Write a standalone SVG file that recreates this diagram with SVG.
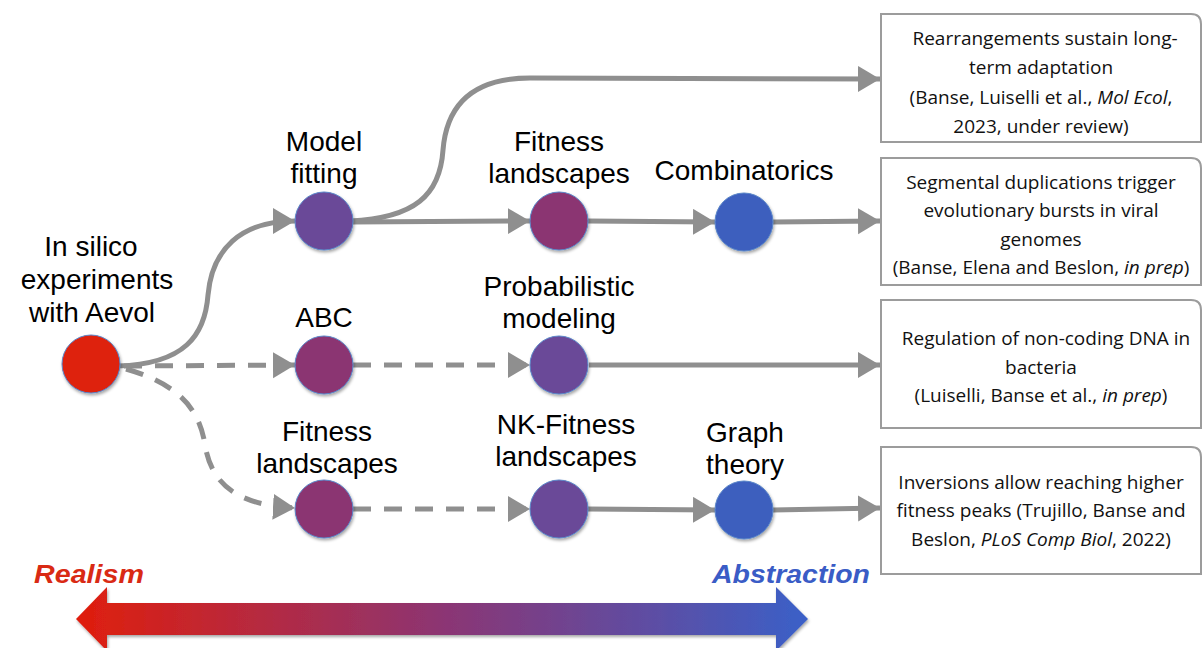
<svg xmlns="http://www.w3.org/2000/svg" width="1203" height="648" viewBox="0 0 1203 648">
<style>
.lbl{font-family:"Liberation Sans",Arial,sans-serif;font-size:28px;fill:#000;text-anchor:middle}
.box{fill:#fff;stroke:#9c9c9c;stroke-width:2}
.bt{font-family:"Open Sans","Noto Sans",sans-serif;font-size:19px;fill:#111;text-anchor:middle}
.conn{fill:none;stroke:#8f8f8f;stroke-width:5}
.dash{stroke-dasharray:18 13}
.node{stroke:#5a86c8;stroke-width:1}
</style>
<defs>
<marker id="ah" markerUnits="userSpaceOnUse" markerWidth="24" markerHeight="28" refX="22" refY="13" orient="auto">
<path d="M0,0 L22,13 L0,26 Z" fill="#8f8f8f"/>
</marker>
<filter id="sh" x="-30%" y="-30%" width="160%" height="160%">
<feDropShadow dx="1" dy="2" stdDeviation="1.5" flood-color="#000" flood-opacity="0.35"/>
</filter>
<linearGradient id="grad" x1="76" y1="0" x2="808" y2="0" gradientUnits="userSpaceOnUse">
<stop offset="0" stop-color="#e01e0c"/>
<stop offset="0.5" stop-color="#8c3573"/>
<stop offset="1" stop-color="#3a60c8"/>
</linearGradient>
</defs>

<g id="connectors">
<path class="conn" marker-end="url(#ah)" d="M118,366 C185,364 205,335 208,295 C212,250 240,221 295,221"/>
<path class="conn dash" marker-end="url(#ah)" d="M124,366 L295,365"/>
<path class="conn dash" marker-end="url(#ah)" d="M126,369 C182,385 200,412 205,445 C212,487 240,505 295,508"/>
<path class="conn" marker-end="url(#ah)" d="M350,221 C415,218 440,195 443,150 C447,100 478,78 530,78 L880,79"/>
<path class="conn" marker-end="url(#ah)" d="M352,222 L530,221"/>
<path class="conn" marker-end="url(#ah)" d="M588,221 L715,222"/>
<path class="conn" marker-end="url(#ah)" d="M773,222 L880,221"/>
<path class="conn dash" marker-end="url(#ah)" d="M353,365 L530,365"/>
<path class="conn" marker-end="url(#ah)" d="M589,365 L880,365"/>
<path class="conn dash" marker-end="url(#ah)" d="M353,509 L530,509"/>
<path class="conn" marker-end="url(#ah)" d="M588,509 L715,510"/>
<path class="conn" marker-end="url(#ah)" d="M773,510 L880,508"/>
</g>

<g id="n-insilico">
<circle class="node" cx="91" cy="364" r="29" fill="#de2010" filter="url(#sh)"/>
<text class="lbl" x="91" y="256">In silico</text>
<text class="lbl" x="97" y="289">experiments</text>
<text class="lbl" x="92" y="322">with Aevol</text>
</g>
<g id="n-modelfitting">
<circle class="node" cx="324" cy="221" r="29" fill="#6a4898" filter="url(#sh)"/>
<text class="lbl" x="324" y="151">Model</text>
<text class="lbl" x="324" y="183">fitting</text>
</g>
<g id="n-fitness1">
<circle class="node" cx="559" cy="221" r="29" fill="#8b3572" filter="url(#sh)"/>
<text class="lbl" x="559" y="151">Fitness</text>
<text class="lbl" x="559" y="183">landscapes</text>
</g>
<g id="n-combinatorics">
<circle class="node" cx="744" cy="222" r="29" fill="#3c5ebe" filter="url(#sh)"/>
<text class="lbl" x="744" y="180">Combinatorics</text>
</g>
<g id="n-abc">
<circle class="node" cx="324" cy="365" r="29" fill="#8b3572" filter="url(#sh)"/>
<text class="lbl" x="324" y="327">ABC</text>
</g>
<g id="n-probabilistic">
<circle class="node" cx="559" cy="365" r="29" fill="#6a4898" filter="url(#sh)"/>
<text class="lbl" x="559" y="296">Probabilistic</text>
<text class="lbl" x="559" y="328">modeling</text>
</g>
<g id="n-fitness2">
<circle class="node" cx="324" cy="509" r="29" fill="#8b3572" filter="url(#sh)"/>
<text class="lbl" x="327" y="441">Fitness</text>
<text class="lbl" x="327" y="473">landscapes</text>
</g>
<g id="n-nkfitness">
<circle class="node" cx="559" cy="509" r="29" fill="#6a4898" filter="url(#sh)"/>
<text class="lbl" x="566" y="434">NK-Fitness</text>
<text class="lbl" x="566" y="466">landscapes</text>
</g>
<g id="n-graph">
<circle class="node" cx="744" cy="510" r="29" fill="#3c5ebe" filter="url(#sh)"/>
<text class="lbl" x="745" y="442">Graph</text>
<text class="lbl" x="745" y="474">theory</text>
</g>

<g id="b-rearrangements">
<path class="box" d="M881,14 H1191 Q1201,14 1201,24 V142 H881 Z"/>
<text class="bt" x="1045" y="45">Rearrangements sustain long-</text>
<text class="bt" x="1041" y="74">term adaptation</text>
<text class="bt" x="1041" y="104">(Banse, Luiselli et al., <tspan font-style="italic">Mol Ecol</tspan>,</text>
<text class="bt" x="1041" y="133">2023, under review)</text>
</g>
<g id="b-segmental">
<path class="box" d="M881,158 H1191 Q1201,158 1201,168 V285 H881 Z"/>
<text class="bt" x="1041" y="189">Segmental duplications trigger</text>
<text class="bt" x="1041" y="217">evolutionary bursts in viral</text>
<text class="bt" x="1041" y="246">genomes</text>
<text class="bt" x="1041" y="274">(Banse, Elena and Beslon, <tspan font-style="italic">in prep</tspan>)</text>
</g>
<g id="b-regulation">
<path class="box" d="M881,300 H1191 Q1201,300 1201,310 V428 H881 Z"/>
<text class="bt" x="1046" y="345">Regulation of non-coding DNA in</text>
<text class="bt" x="1041" y="374">bacteria</text>
<text class="bt" x="1041" y="402">(Luiselli, Banse et al., <tspan font-style="italic">in prep</tspan>)</text>
</g>
<g id="b-inversions">
<path class="box" d="M881,447 H1191 Q1201,447 1201,457 V574 H881 Z"/>
<text class="bt" x="1041" y="489">Inversions allow reaching higher</text>
<text class="bt" x="1041" y="517">fitness peaks (Trujillo, Banse and</text>
<text class="bt" x="1041" y="546">Beslon, <tspan font-style="italic">PLoS Comp Biol</tspan>, 2022)</text>
</g>

<g id="scale">
<path d="M76,619 L107,587 L107,603 L776,603 L776,587 L808,619 L776,651 L776,635 L107,635 L107,651 Z" fill="url(#grad)" filter="url(#sh)"/>
<text x="34" y="583" font-family="Liberation Sans,Arial,sans-serif" font-size="26" font-weight="bold" font-style="italic" fill="#d92a14" textLength="110" lengthAdjust="spacingAndGlyphs">Realism</text>
<text x="712" y="583" font-family="Liberation Sans,Arial,sans-serif" font-size="26" font-weight="bold" font-style="italic" fill="#3a5cc6" textLength="158" lengthAdjust="spacingAndGlyphs">Abstraction</text>
</g>
</svg>
